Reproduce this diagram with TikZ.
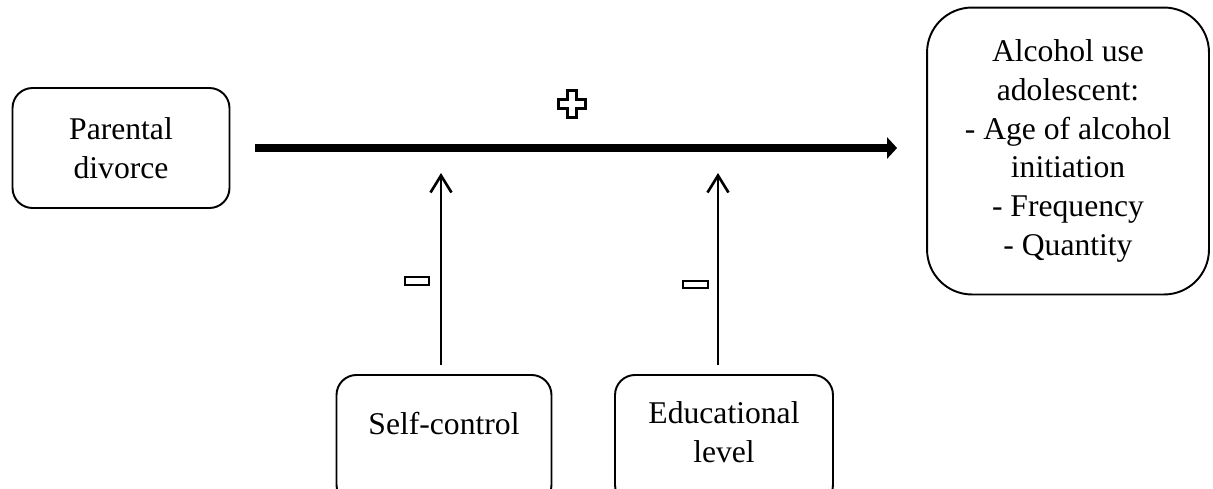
\documentclass[tikz,border=0pt]{standalone}
\usepackage{fontspec}
\setmainfont{Liberation Serif}
\usetikzlibrary{arrows.meta}
\tikzset{
    rbox/.style={draw, line width=1.1pt, rounded corners=0.4cm, align=center},
    mainarrow/.style={line width=0.16cm, -{Triangle[length=0.2cm,width=0.42cm]}},
    modarrow/.style={line width=1.5pt, -{Straight Barb[length=0.34cm,width=0.42cm]}},
    signbox/.style={line width=1.3pt, line join=miter}
}
\begin{document}
\begin{tikzpicture}[x=0.02cm, y=-0.02cm, font=\fontsize{18}{22}\selectfont]
                \useasboundingbox (0,0) rectangle (1213,488);
                \clip (0,0) rectangle (1213,488);
                \node[rbox, minimum width=4.34cm, minimum height=2.4cm] (divorce) at (121,148) {Parental\\divorce};
                \node[rbox, rounded corners=0.9cm, minimum width=5.64cm, minimum height=5.74cm] (alcohol) at (1068,151)
                    {Alcohol use\\adolescent:\\- Age of alcohol\\initiation\\- Frequency\\- Quantity};
                \node[rbox, anchor=north, minimum width=4.3cm, minimum height=2.6cm] (selfctrl) at (444,374) {};
                \node[rbox, anchor=north, minimum width=4.36cm, minimum height=2.6cm] (edulevel) at (724,374) {};
                \node[align=center] (selftxt) at ([yshift=-1cm]selfctrl.north) {Self-control};
                \node[align=center] (edutxt) at ([yshift=-1.16cm]edulevel.north) {Educational\\level};
                \coordinate (modself) at (441,173);
                \coordinate (modedu) at (718,173);
                \draw[mainarrow, shorten <=0.5cm, shorten >=0.58cm] (divorce.east) -- (divorce.east -| alcohol.west);
                \draw[modarrow, shorten <=0.18cm] (modself |- selfctrl.north) -- (modself);
                \draw[modarrow, shorten <=0.18cm] (modedu |- edulevel.north) -- (modedu);
                % signs
                \draw[signbox] (567.5,90.5) -- (576.5,90.5) -- (576.5,99.5) -- (585.5,99.5) -- (585.5,108.5) -- (576.5,108.5)
                    -- (576.5,117.5) -- (567.5,117.5) -- (567.5,108.5) -- (558.5,108.5) -- (558.5,99.5) -- (567.5,99.5) -- cycle;
                \draw[signbox] (405,277) rectangle (429,285);
                \draw[signbox] (683,281) rectangle (708,288);
            \end{tikzpicture}
\end{document}
